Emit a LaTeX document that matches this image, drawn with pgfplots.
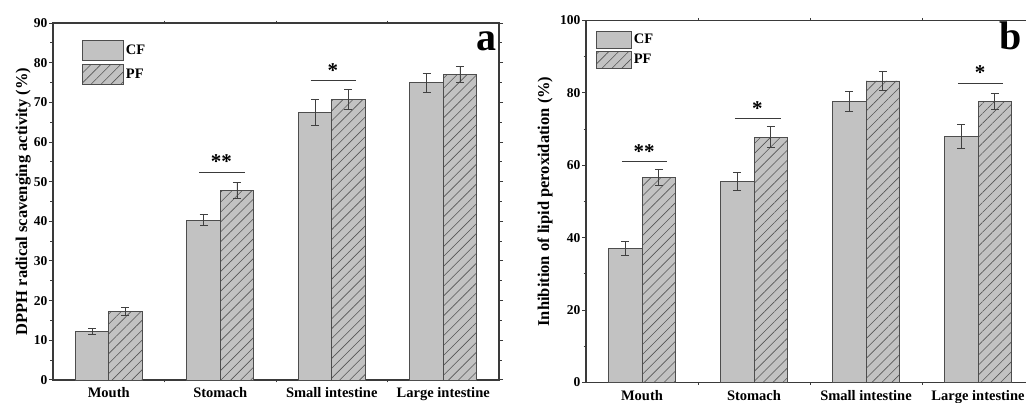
\documentclass[border=0pt]{standalone}
\usepackage{fontspec}
\setmainfont{Liberation Serif}
\usepackage{pgfplots}
\pgfplotsset{compat=1.18}
\usetikzlibrary{patterns.meta}
\definecolor{barfill}{HTML}{C2C2C2}
\definecolor{baredge}{HTML}{4D4D4D}
\definecolor{axcol}{HTML}{3A3A3A}
\definecolor{hatch}{HTML}{555555}

\pgfplotsset{
 panel/.style={
  scale only axis, anchor=south west,
  ybar=0pt, bar width=0.3,
  xmin=0.5, xmax=4.5, ymin=0,
  xtick={1,2,3,4},
  xticklabels={Mouth,Stomach,Small intestine,Large intestine},
  minor xtick={1.5,2.5,3.5},
  major x tick style={draw=none},
  tick align=outside,
  major tick length=4pt, minor tick length=2.5pt,
  axis line style={axcol, line width=1.2pt},
  every tick/.style={axcol, line width=1pt},
  x tick label style={font=\fontsize{14.5}{16}\selectfont\bfseries},
  y tick label style={font=\fontsize{13.5}{15}\selectfont\bfseries, inner sep=1.5pt},
  /pgf/number format/assume math mode=true,
  ylabel style={font=\fontsize{16.5}{18}\selectfont\bfseries},
  legend style={draw=none, fill=none, inner sep=0pt, font=\fontsize{14.5}{16}\selectfont\bfseries, anchor=north west},
  legend cell align=left,
  clip=false,
 },
 cf/.style={fill=barfill, draw=baredge, line width=0.8pt},
 pf/.style={fill=barfill, draw=baredge, line width=0.8pt,
   postaction={pattern={Lines[angle=45,distance=7pt,line width=0.6pt]}, pattern color=hatch}},
 eb/.style={error bars/.cd, y dir=both, y explicit,
   error bar style={line width=0.8pt, black!75},
   error mark options={rotate=90, mark size=4pt, line width=0.8pt, black!75}},
}

\begin{document}
\begin{tikzpicture}
\useasboundingbox (0,0) rectangle (1026pt,403pt);
\clip (0,0) rectangle (1026pt,403pt);

% ---------- panel a ----------
\begin{axis}[panel,
  at={(53pt,23pt)}, width=446pt, height=357pt,
  ymax=90, ytick distance=10, minor y tick num=1,
  ylabel={DPPH radical scavenging activity (\%)},
  ylabel style={at={(axis description cs:-0.067,0.5)}, anchor=center},
  legend style={at={(axis description cs:0.065,0.952)}, row sep=2.5pt},
  legend image code/.code={\draw[#1] (0pt,-10pt) rectangle (41pt,10pt);},
]
\addplot[cf, eb] coordinates {
 (1,12.2) +- (0,0.8)
 (2,40.3) +- (0,1.4)
 (3,67.5) +- (0,3.2)
 (4,74.9) +- (0,2.4)
};
\addplot[pf, eb] coordinates {
 (1,17.3) +- (0,0.9)
 (2,47.7) +- (0,2.0)
 (3,70.8) +- (0,2.5)
 (4,77.0) +- (0,2.1)
};
\legend{CF,PF}
\draw[axcol, line width=1pt] (axis cs:1.81,52.3) -- (axis cs:2.22,52.3);
\node[font=\fontsize{21}{21}\selectfont\bfseries] at (axis cs:2.01,55.0) {**};
\draw[axcol, line width=1pt] (axis cs:2.81,75.6) -- (axis cs:3.22,75.6);
\node[font=\fontsize{21}{21}\selectfont\bfseries] at (axis cs:3.01,78.0) {*};
\node[anchor=base east, inner sep=0pt, font=\fontsize{40}{40}\selectfont\bfseries] at (axis description cs:0.9955,0.924) {a};
\end{axis}

% ---------- panel b ----------
\begin{axis}[panel,
  at={(586pt,20.5pt)}, width=448pt, height=362pt,
  ymax=100, ytick distance=20, minor y tick num=1,
  ylabel={Inhibition of lipid peroxidation (\%)},
  ylabel style={at={(axis description cs:-0.0915,0.5)}, anchor=center},
  legend style={at={(axis description cs:0.022,0.972)}, row sep=2pt},
  legend image code/.code={\draw[#1] (0pt,-8.5pt) rectangle (35pt,8.5pt);},
]
\addplot[cf, eb] coordinates {
 (1,37.0) +- (0,2.0)
 (2,55.5) +- (0,2.5)
 (3,77.6) +- (0,2.8)
 (4,68.0) +- (0,3.3)
};
\addplot[pf, eb] coordinates {
 (1,56.6) +- (0,2.2)
 (2,67.8) +- (0,2.9)
 (3,83.3) +- (0,2.7)
 (4,77.7) +- (0,2.2)
};
\legend{CF,PF}
\draw[axcol, line width=1pt] (axis cs:0.82,61.1) -- (axis cs:1.22,61.1);
\node[font=\fontsize{21}{21}\selectfont\bfseries] at (axis cs:1.02,63.7) {**};
\draw[axcol, line width=1pt] (axis cs:1.83,72.9) -- (axis cs:2.24,72.9);
\node[font=\fontsize{21}{21}\selectfont\bfseries] at (axis cs:2.03,75.6) {*};
\draw[axcol, line width=1pt] (axis cs:3.82,82.7) -- (axis cs:4.22,82.7);
\node[font=\fontsize{21}{21}\selectfont\bfseries] at (axis cs:4.02,85.5) {*};
\node[anchor=base east, inner sep=0pt, font=\fontsize{40}{40}\selectfont\bfseries] at (axis description cs:0.973,0.9185) {b};
\end{axis}
\end{tikzpicture}
\end{document}
